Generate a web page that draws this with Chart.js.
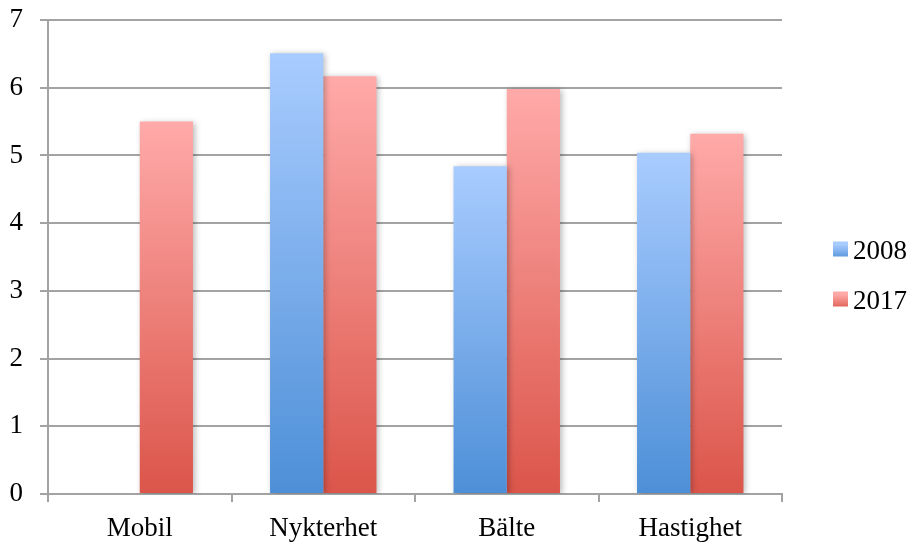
<!DOCTYPE html>
<html>
<head>
<meta charset="utf-8">
<script src="https://cdn.jsdelivr.net/npm/chart.js@4/dist/chart.umd.min.js"></script>
<style>
  html, body { margin: 0; padding: 0; background: #ffffff; }
  #wrap { width: 912px; height: 542px; }
</style>
</head>
<body>
<div id="wrap"><canvas id="c" width="912" height="542"></canvas></div>
<script>
const categories = ['Mobil', 'Nykterhet', 'Bälte', 'Hastighet'];
const seriesLabels = ['2008', '2017'];
const values2008 = [null, 6.51, 4.84, 5.04];
const values2017 = [5.50, 6.17, 5.98, 5.32];
const yTicks = [0, 1, 2, 3, 4, 5, 6, 7];

const FONT = '"Liberation Serif", "DejaVu Serif", serif';
const FONT_SIZE = 27;
const palette = {
  blue: { top: '#a9ccff', bottom: '#4d8fd7' },
  red:  { top: '#ffaaa9', bottom: '#db554a' }
};

// vertical gradient spanning each bar from its top down to the baseline
function barGradient(colors) {
  return function (ctx) {
    const chart = ctx.chart;
    if (ctx.type !== 'data' || !chart.chartArea || !ctx.parsed) return colors.bottom;
    const y = chart.scales.y;
    const top = y.getPixelForValue(ctx.parsed.y);
    const base = y.getPixelForValue(0);
    if (!isFinite(top) || !isFinite(base) || top === base) return colors.bottom;
    const g = chart.ctx.createLinearGradient(0, top, 0, base);
    g.addColorStop(0, colors.top);
    g.addColorStop(1, colors.bottom);
    return g;
  };
}

// soft drop shadow behind the bars
const barShadow = {
  id: 'barShadow',
  beforeDatasetsDraw(chart) {
    const c = chart.ctx;
    c.save();
    c.shadowColor = 'rgba(0,0,0,0.28)';
    c.shadowBlur = 6;
    c.shadowOffsetX = 2;
    c.shadowOffsetY = 1;
  },
  afterDatasetsDraw(chart) {
    chart.ctx.restore();
  }
};

// legend on the right, centred vertically on the canvas
const sideLegend = {
  id: 'sideLegend',
  afterDraw(chart) {
    const c = chart.ctx;
    const area = chart.chartArea;
    const boxX = area.right + 51;
    const box = 15;
    const gap = 50;
    const n = chart.data.datasets.length;
    const midY = chart.height / 2 + 6;
    c.save();
    c.font = FONT_SIZE + 'px ' + FONT;
    c.textBaseline = 'middle';
    chart.data.datasets.forEach((ds, i) => {
      const cy = midY + (i - (n - 1) / 2) * gap;
      const cols = ds._legendColors;
      const g = c.createLinearGradient(0, cy - box / 2, 0, cy + box / 2);
      g.addColorStop(0, cols.top);
      g.addColorStop(1, cols.bottom);
      c.fillStyle = g;
      c.fillRect(boxX, cy - box / 2 - 3, box, box);
      c.fillStyle = '#000';
      c.fillText(ds.label, boxX + box + 5, cy);
    });
    c.restore();
  }
};

new Chart(document.getElementById('c'), {
  type: 'bar',
  data: {
    labels: categories,
    datasets: [
      {
        label: seriesLabels[0],
        data: values2008,
        backgroundColor: barGradient(palette.blue),
        _legendColors: palette.blue,
        borderWidth: 0
      },
      {
        label: seriesLabels[1],
        data: values2017,
        backgroundColor: barGradient(palette.red),
        _legendColors: palette.red,
        borderWidth: 0
      }
    ]
  },
  options: {
    responsive: false,
    animation: false,
    devicePixelRatio: 1,
    layout: { padding: { left: 0, right: 130, top: 20, bottom: 0 } },
    datasets: {
      bar: { categoryPercentage: 0.58, barPercentage: 1.0 }
    },
    plugins: {
      legend: { display: false },
      tooltip: { enabled: false },
      title: { display: false }
    },
    scales: {
      x: {
        afterFit(axis) {
          axis.height = 48;
          axis.paddingLeft = 0;
          axis.paddingRight = 0;
        },
        grid: {
          display: true,
          drawOnChartArea: false,
          drawTicks: true,
          tickLength: 8,
          color: '#a3a3a3',
          lineWidth: 2,
          offset: true
        },
        border: { display: true, color: '#a3a3a3', width: 2 },
        ticks: {
          color: '#000',
          font: { family: FONT, size: FONT_SIZE },
          padding: 11,
          maxRotation: 0
        }
      },
      y: {
        min: 0,
        max: 7,
        afterBuildTicks(axis) {
          axis.ticks = yTicks.map(v => ({ value: v }));
        },
        afterFit(axis) {
          axis.width = 48;
          axis.paddingTop = 0;
          axis.paddingBottom = 0;
        },
        grid: {
          color: '#a3a3a3',
          lineWidth: 2,
          tickLength: 8,
          drawTicks: true
        },
        border: { display: true, color: '#a3a3a3', width: 2 },
        ticks: {
          color: '#000',
          font: { family: FONT, size: FONT_SIZE },
          padding: 17,
          stepSize: 1
        }
      }
    }
  },
  plugins: [barShadow, sideLegend]
});
</script>
</body>
</html>
